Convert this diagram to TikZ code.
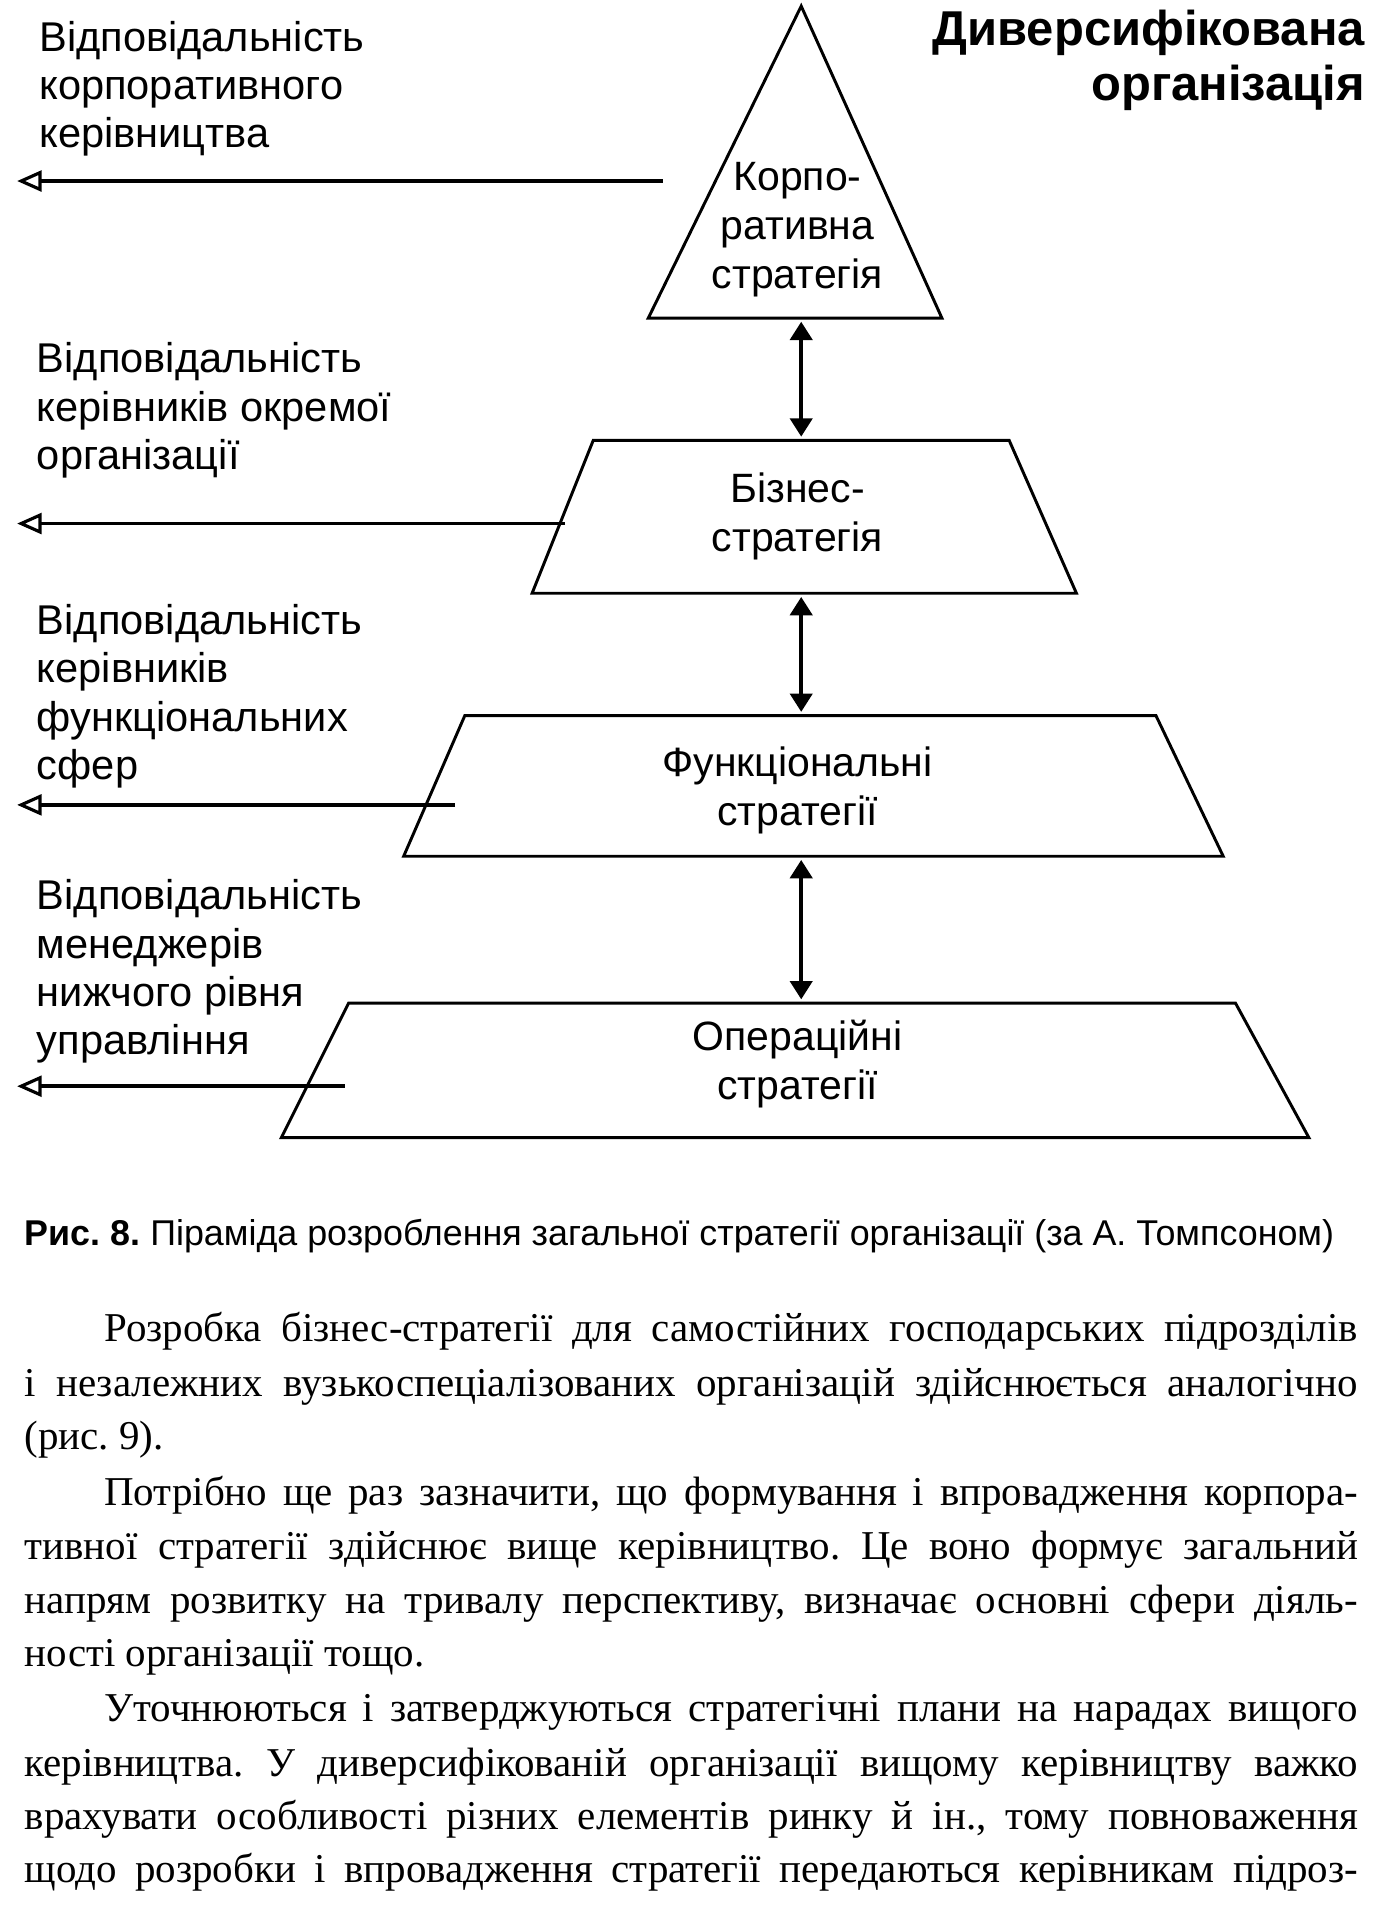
\documentclass[tikz,border=0pt]{standalone}
\usepackage{fontspec}
\setmainfont{Liberation Serif}
\newfontfamily\arial{Liberation Sans}
\usetikzlibrary{arrows.meta}
\frenchspacing
\begin{document}
\begin{tikzpicture}[x=1pt,y=-1pt,
  shp/.style={draw,line width=2.4pt,line join=miter},
  lab/.style={font=\arial\fontsize{33.5}{40}\selectfont,align=center},
  side/.style={font=\arial\fontsize{34}{39.5}\selectfont,align=left,anchor=north west,inner sep=0pt},
  larr/.style={line width=3.2pt,-{Triangle[open,length=20pt,width=17pt,line width=2.6pt]}},
  darr/.style={line width=3.4pt,{Triangle[length=15pt,width=18pt]}-{Triangle[length=15pt,width=18pt]}},
  pl/.style={font=\frenchspacing\fontsize{33.5}{44}\selectfont,anchor=base west,inner sep=0pt}]
\useasboundingbox (0,0) rectangle (1131,1568);
% shapes
\draw[shp] (655,5) -- (770,260) -- (530,260) -- cycle;
\draw[shp] (485,360) -- (825,360) -- (880,485) -- (435,485) -- cycle;
\draw[shp] (380,585) -- (945,585) -- (1000,700) -- (330,700) -- cycle;
\draw[shp] (285,820) -- (1010,820) -- (1070,930) -- (230,930) -- cycle;
\node[lab] (t1) at (652,188) {Корпо-\\ративна\\стратегія};
\node[lab] (t2) at (652,422) {Бізнес-\\стратегія};
\node[lab] (t3) at (652,646) {Функціональні\\стратегії};
\node[lab] (t4) at (652,870) {Операційні\\стратегії};
\coordinate (a1) at (655,263); \coordinate (b1) at (655,357);
\coordinate (a2) at (655,488); \coordinate (b2) at (655,582);
\coordinate (a3) at (655,703); \coordinate (b3) at (655,817);
\draw[darr] (a1) -- (b1);
\draw[darr] (a2) -- (b2);
\draw[darr] (a3) -- (b3);
\coordinate (s1) at (542,148); \coordinate (e1) at (14,148);
\coordinate (s2) at (462,428); \coordinate (e2) at (14,428);
\coordinate (s3) at (372,658); \coordinate (e3) at (14,658);
\coordinate (s4) at (282,888); \coordinate (e4) at (14,888);
\foreach \i in {1,2,3,4} \draw[larr] (s\i) -- (e\i);
\node[side] (l1) at (32,17) {Відповідальність\\корпоративного\\керівництва};
\node[side] (l2) at (30,280) {Відповідальність\\керівників окремої\\організації};
\node[side] (l3) at (30,494) {Відповідальність\\керівників\\функціональних\\сфер};
\node[side] (l4) at (30,719) {Відповідальність\\менеджерів\\нижчого рівня\\управління};
\node[font=\arial\bfseries\fontsize{40}{45}\selectfont,align=right,anchor=north east,inner sep=0pt] (title) at (1116,8) {Диверсифікована\\організація};
\node[font=\arial\fontsize{29.3}{32}\selectfont,anchor=base west,inner sep=0pt] (cap) at (20,1018) {\textbf{Рис. 8.} Піраміда розроблення загальної стратегії організації (за А. Томпсоном)};
% paragraphs
\node[pl] (p1) at (85,1097) {\makebox[1025pt][s]{Розробка бізнес-стратегії для самостійних господарських підрозділів}};
\node[pl] (p2) at (20,1142) {\makebox[1090pt][s]{і незалежних вузькоспеціалізованих організацій здійснюється аналогічно}};
\node[pl] (p3) at (20,1185) {(рис. 9).};
\node[pl] (p4) at (85,1231) {\makebox[1025pt][s]{Потрібно ще раз зазначити, що формування і впровадження корпора-}};
\node[pl] (p5) at (20,1275) {\makebox[1090pt][s]{тивної стратегії здійснює вище керівництво. Це воно формує загальний}};
\node[pl] (p6) at (20,1319) {\makebox[1090pt][s]{напрям розвитку на тривалу перспективу, визначає основні сфери діяль-}};
\node[pl] (p7) at (20,1362) {ності організації тощо.};
\node[pl] (p8) at (85,1407) {\makebox[1025pt][s]{Уточнюються і затверджуються стратегічні плани на нарадах вищого}};
\node[pl] (p9) at (20,1452) {\makebox[1090pt][s]{керівництва. У диверсифікованій організації вищому керівництву важко}};
\node[pl] (p10) at (20,1496) {\makebox[1090pt][s]{врахувати особливості різних елементів ринку й ін., тому повноваження}};
\node[pl] (p11) at (20,1539) {\makebox[1090pt][s]{щодо розробки і впровадження стратегії передаються керівникам підроз-}};
\end{tikzpicture}
\end{document}
